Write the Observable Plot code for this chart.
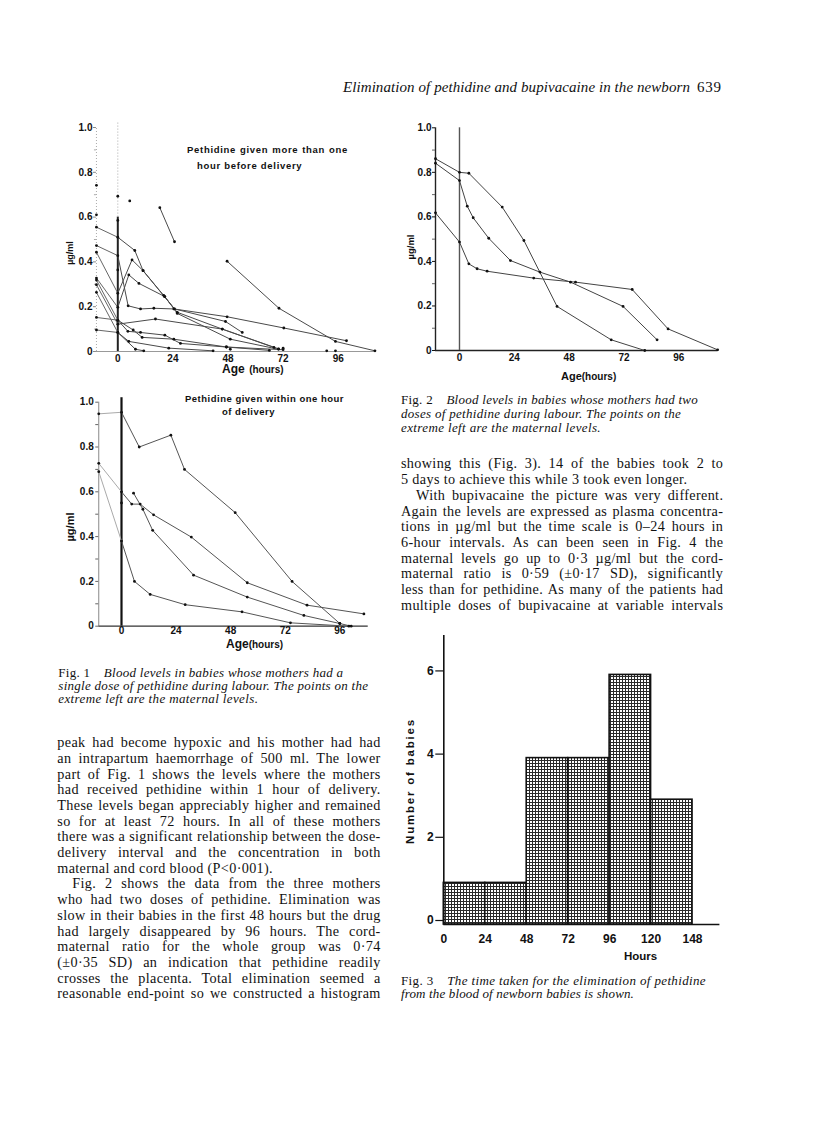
<!DOCTYPE html>
<html><head><meta charset="utf-8">
<script src="https://cdn.jsdelivr.net/npm/d3@7"></script>
<script src="https://cdn.jsdelivr.net/npm/@observablehq/plot@0.6"></script>
<style>
html,body{margin:0;padding:0;background:#fff}
#page{position:relative;width:816px;height:1125px;overflow:hidden;background:#fff;color:#111}
.a{position:absolute}
.serif{font-family:"Liberation Serif","Times New Roman",serif}
.sans{font-family:"Liberation Sans",Arial,sans-serif;font-weight:bold}
.ln{position:absolute;white-space:nowrap;text-align:justify;text-align-last:justify}
.ln.end{text-align-last:left}
.rot{transform:translate(-50%,-50%) rotate(-90deg);white-space:nowrap}
svg{display:block}
</style></head><body><div id="page"></div>
<script>
// ---------------- DATA ----------------
// Fig 1 (upper): pethidine given more than one hour before delivery. [age hours, µg/ml]; first point at negative age = maternal level
const fig1aSeries = [
  [[-9.3,0.555],[0,0.51],[7.4,0.451],[11,0.361],[20.3,0.245],[25.9,0.175],[45.5,0.10],[70,0.012]],
  [[-9.3,0.473],[0,0.428],[4.5,0.204],[9.9,0.19],[15.7,0.193],[24.4,0.19],[47.6,0.155],[72.3,0.105],[99.6,0.048]],
  [[-9.3,0.443],[0,0.26],[6.2,0.409],[11,0.361],[20,0.25],[24.7,0.19],[46.9,0.134],[54.2,0.085]],
  [[-9.3,0.328],[0,0.197],[4.8,0.342],[9.2,0.304],[20.5,0.245],[25.9,0.17],[49,0.055],[70,0.01]],
  [[-9.3,0.319],[0,0.14],[4.4,0.09],[9.9,0.085],[20.5,0.073],[27.3,0.036],[47.3,0.02],[72,0.008]],
  [[-9.3,0.298],[0,0.122],[16.4,0.145],[45.5,0.10],[68,0.018]],
  [[-9.3,0.264],[0,0.085],[4.8,0.045],[22.2,0.015],[41.5,0.003]],
  [[-9.3,0.152],[0,0.14],[6.7,0.096],[10.6,0.063],[24.4,0.055],[47.3,0.02],[66,0.005]],
  [[-9.3,0.096],[0,0.085],[7.7,0.01],[11.3,0.003]],
  [[47.6,0.403],[70.2,0.193],[94.8,0.045],[112,0.003]],
  [[18.3,0.642],[24.7,0.49]]
];
const fig1aLoose = [[-9.3,0.742],[0,0.693],[5.2,0.672],[-9.3,0.61],[0,0.585],[0,0.364],[49,0.01],[72,0.015],[91,0.003],[94.8,0.003]];

// Fig 1 (lower): pethidine given within one hour of delivery
const fig1bSeries = [
  [[-10,0.948],[0,0.955],[7.8,0.80],[21.7,0.853],[27.7,0.70],[50,0.507],[75,0.20],[96,0.012],[101,0]],
  [[-10,0.727],[0,0.60],[4.5,0.545],[8.2,0.545],[14.1,0.497],[30.7,0.398],[55.3,0.194],[81.6,0.094],[106.6,0.055]],
  [[5.3,0.594],[9.4,0.522],[13.7,0.428],[31.7,0.228],[55.3,0.13],[80.2,0.048],[96,0.012]],
  [[-10,0.69],[0,0.38],[5.7,0.20],[12.6,0.142],[28,0.096],[53,0.064],[74.3,0.015],[100,0]]
];
const fig1bLoose = [[0,0.55]];

// Fig 2: two doses of pethidine
const fig2Series = [
  [[-10.5,0.861],[0,0.80],[4.1,0.796],[18.7,0.644],[28.2,0.494],[42.7,0.198],[66.4,0.048],[81.1,0.0]],
  [[-10.5,0.841],[0,0.763],[3.4,0.648],[6.0,0.596],[12.8,0.504],[22.3,0.404],[35.2,0.352],[48.6,0.307],[71.6,0.198],[86.5,0.048]],
  [[-10.5,0.618],[0,0.487],[4.1,0.389],[7.7,0.367],[12.1,0.356],[32.5,0.325],[50.8,0.307],[75.6,0.274],[91.3,0.097],[113,0.003]]
];

// Shared axis ticks
const yTickValues = [0,0.2,0.4,0.6,0.8,1.0];
const yTickLabels = ["0","0.2","0.4","0.6","0.8","1.0"];
const yMinorTicks = [0.1,0.3,0.5,0.7,0.9];
const xTickHours = [0,24,48,72,96];

// Fig 3: histogram of time to elimination
const fig3BinLabels = ["0","24","48","72","96","120","148"];
const fig3Counts = [1,1,4,4,6,3];
const fig3YTicks = [0,2,4,6];

// Text
const headerTitle = "Elimination of pethidine and bupivacaine in the newborn";
const headerPage = "639";
const fig1aTitle = ["Pethidine given more than one","hour before delivery"];
const fig1bTitle = ["Pethidine given within one hour","of delivery"];
const cap1 = ["Blood levels in babies whose mothers had a","single dose of pethidine during labour. The points on the","extreme left are the maternal levels."];
const cap2 = ["Blood levels in babies whose mothers had two","doses of pethidine during labour. The points on the","extreme left are the maternal levels."];
const cap3 = ["The time taken for the elimination of pethidine","from the blood of newborn babies is shown."];
const leftBody = [
 "peak had become hypoxic and his mother had had",
 "an intrapartum haemorrhage of 500 ml. The lower",
 "part of Fig. 1 shows the levels where the mothers",
 "had received pethidine within 1 hour of delivery.",
 "These levels began appreciably higher and remained",
 "so for at least 72 hours. In all of these mothers",
 "there was a significant relationship between the dose-",
 "delivery interval and the concentration in both",
 "maternal and cord blood (P<0·001).",
 "Fig. 2 shows the data from the three mothers",
 "who had two doses of pethidine. Elimination was",
 "slow in their babies in the first 48 hours but the drug",
 "had largely disappeared by 96 hours. The cord-",
 "maternal ratio for the whole group was 0·74",
 "(±0·35 SD) an indication that pethidine readily",
 "crosses the placenta. Total elimination seemed a",
 "reasonable end-point so we constructed a histogram"
];
const rightBody = [
 "showing this (Fig. 3). 14 of the babies took 2 to",
 "5 days to achieve this while 3 took even longer.",
 "With bupivacaine the picture was very different.",
 "Again the levels are expressed as plasma concentra-",
 "tions in µg/ml but the time scale is 0–24 hours in",
 "6-hour intervals. As can been seen in Fig. 4 the",
 "maternal levels go up to 0·3 µg/ml but the cord-",
 "maternal ratio is 0·59 (±0·17 SD), significantly",
 "less than for pethidine. As many of the patients had",
 "multiple doses of bupivacaine at variable intervals"
];

// ---------------- RENDER ----------------
const page = document.getElementById("page");
function place(el, left, top){ const d=document.createElement("div"); d.className="a"; d.style.left=left+"px"; d.style.top=top+"px"; d.appendChild(el); page.appendChild(d); return d; }
function html(cls, left, top, content, extra){ const d=document.createElement("div"); d.className=cls; d.style.left=left+"px"; d.style.top=top+"px"; if(extra) Object.assign(d.style, extra); d.innerHTML=content; page.appendChild(d); return d; }
const esc = s => s.replace(/&/g,"&amp;").replace(/</g,"&lt;");
const mctx = document.createElement("canvas").getContext("2d");
function measure(text, font){ mctx.font = font; return mctx.measureText(text).width; }

const baseStyle = {background:"none", fontFamily:"Liberation Sans, Arial, sans-serif", fontSize:"10px", fontWeight:"bold", color:"#111", overflow:"visible"};
const yFmt = d => yTickLabels[yTickValues.indexOf(d)];

function lineMarks(series, loose, babyStroke, matStroke){
  const mat=[], baby=[], pts=[];
  series.forEach((s,i)=>{
    s.forEach(([h,v])=>pts.push({h,v}));
    let st=0;
    if (s[0][0] < 0){ mat.push({id:i,h:s[0][0],v:s[0][1]},{id:i,h:s[1][0],v:s[1][1]}); st=1; }
    s.slice(st).forEach(([h,v])=>baby.push({id:i,h,v}));
  });
  loose.forEach(([h,v])=>pts.push({h,v}));
  return [
    Plot.line(mat,{x:"h",y:"v",z:"id",stroke:matStroke,strokeWidth:1}),
    Plot.line(baby,{x:"h",y:"v",z:"id",stroke:babyStroke,strokeWidth:1}),
    Plot.dot(pts,{x:"h",y:"v",r:1.4,fill:"#111",stroke:"none"})
  ];
}

// Fig 1 upper
const x1a=[-9.3,113];
place(Plot.plot({
  width:360,height:270,marginLeft:55.95,marginRight:23.25,marginTop:12,marginBottom:34,
  x:{domain:x1a,label:null}, y:{domain:[0,1],label:null}, style:baseStyle,
  marks:[
    Plot.ruleX([x1a[0]],{y1:0,y2:1,stroke:"#aaa",strokeDasharray:"1,2"}),
    Plot.ruleY([0],{x1:x1a[0],x2:112,stroke:"#999",strokeWidth:1.2}),
    Plot.ruleX([0],{y1:0,y2:0.6,stroke:"#222",strokeWidth:2}),
    Plot.ruleX([0],{y1:0.6,y2:1.02,stroke:"#aaa",strokeDasharray:"1,2"}),
    Plot.axisY({ticks:yTickValues,tickFormat:yFmt,tickSize:3,tickPadding:1,stroke:"#888"}),
    Plot.axisY({ticks:yMinorTicks,tickFormat:()=>"",tickSize:2,stroke:"#aaa"}),
    Plot.axisX({ticks:xTickHours,tickSize:0,tickPadding:3}),
    ...lineMarks(fig1aSeries, fig1aLoose, "#4a4a4a", "#666")
  ]
}),40,115);

// Fig 1 lower
const x1b=[-10,113];
place(Plot.plot({
  width:360,height:270,marginLeft:58.26,marginRight:22.04,marginTop:16.7,marginBottom:29.3,
  x:{domain:x1b,label:null}, y:{domain:[0,1],label:null}, style:baseStyle,
  marks:[
    Plot.ruleX([x1b[0]],{y1:0,y2:1,stroke:"#888"}),
    Plot.ruleY([0],{x1:x1b[0],x2:108.5,stroke:"#333",strokeWidth:1.2}),
    Plot.ruleX([0],{y1:0,y2:1.02,stroke:"#111",strokeWidth:2.2}),
    Plot.axisY({ticks:yTickValues,tickFormat:yFmt,tickSize:3,tickPadding:2,stroke:"#666"}),
    Plot.axisY({ticks:yMinorTicks,tickFormat:()=>"",tickSize:3,stroke:"#666"}),
    Plot.axisX({ticks:xTickHours,tickSize:0,tickPadding:1}),
    ...lineMarks(fig1bSeries, fig1bLoose, "#555", "#aaa")
  ]
}),40,385);

// Fig 2
const x2=[-10.5,115];
place(Plot.plot({
  width:360,height:270,marginLeft:35,marginRight:38.3,marginTop:12.3,marginBottom:35,
  x:{domain:x2,label:null}, y:{domain:[0,1],label:null}, style:baseStyle,
  marks:[
    Plot.ruleX([x2[0]],{y1:0,y2:1,stroke:"#222",strokeWidth:1.4}),
    Plot.ruleY([0],{x1:x2[0],x2:113,stroke:"#222",strokeWidth:1.4}),
    Plot.ruleX([0],{y1:0,y2:1,stroke:"#555",strokeWidth:1.4}),
    Plot.axisY({ticks:yTickValues,tickFormat:yFmt,tickSize:3,tickPadding:1}),
    Plot.axisY({ticks:yMinorTicks,tickFormat:()=>"",tickSize:3,stroke:"#666"}),
    Plot.axisX({ticks:xTickHours,tickSize:0,tickPadding:3}),
    ...lineMarks(fig2Series, [], "#444", "#444")
  ]
}),400,115);

// Fig 3 histogram
const binRows = fig3Counts.map((c,i)=>({i0:i,i1:i+1,c}));
const fig3 = Plot.plot({
  width:360,height:340,marginLeft:43.3,marginRight:40.6,marginTop:9.9,marginBottom:41,
  x:{domain:[0,6.66],label:null}, y:{domain:[0,6.95],label:null},
  style:Object.assign({},baseStyle,{fontSize:"12px"}),
  marks:[
    Plot.rectY(binRows,{x1:"i0",x2:"i1",y:"c",fill:"url(#dots)",stroke:"#111",strokeWidth:1.6}),
    Plot.ruleX([0],{y1:0,y2:6.95,stroke:"#111",strokeWidth:1.6}),
    Plot.ruleY([0],{x1:0,x2:6.66,stroke:"#111",strokeWidth:1.6}),
    Plot.axisY({ticks:fig3YTicks,tickFormat:d=>String(d),tickSize:8,tickPadding:2,dy:-4,strokeWidth:1.2}),
    Plot.axisX({ticks:d3.range(fig3BinLabels.length),tickFormat:i=>fig3BinLabels[i],tickSize:0,tickPadding:10})
  ]
});
{
  const defs = d3.select(fig3).insert("defs",":first-child");
  const p = defs.append("pattern").attr("id","dots").attr("width",3).attr("height",3).attr("patternUnits","userSpaceOnUse");
  p.append("rect").attr("width",3).attr("height",3).attr("fill","#2a2a2a");
  p.append("rect").attr("x",1).attr("y",1).attr("width",2).attr("height",2).attr("fill","#fff");
}
place(fig3,400,625);

// ---- chart texts ----
function titleLines(lines, lefts, widths, centers, size, ls){
  lines.forEach((t,i)=>html("ln sans", lefts[i], centers[i]-size*0.6, esc(t), {width:widths[i]+"px", fontSize:size+"px", lineHeight:(size*1.2)+"px", letterSpacing:ls+"px"}));
}
titleLines(fig1aTitle,[187,197],[161,105],[150,166],9.5,0.7);
titleLines(fig1bTitle,[185,222],[158,48],[399,412],9.5,0.5);

html("a sans",222,361,'<span style="font-size:12px">Age</span> <span style="font-size:10px">(hours)</span>',{lineHeight:"14px",whiteSpace:"nowrap"});
html("a sans",226,636,'<span style="font-size:12px">Age</span><span style="font-size:10px">(hours)</span>',{lineHeight:"14px",whiteSpace:"nowrap"});
html("a sans",561,368,'<span style="font-size:11px">Age</span><span style="font-size:10px">(hours)</span>',{lineHeight:"14px",whiteSpace:"nowrap"});

html("a sans rot",70,253,"µg/ml",{fontSize:"9px"});
html("a sans rot",70,527,"µg/ml",{fontSize:"11px"});
html("a sans rot",410,247,"µg/ml",{fontSize:"9.5px"});
html("a sans rot",410,781,"Number of babies",{fontSize:"11.5px",letterSpacing:"1.8px"});
html("a sans",624,949,"Hours",{fontSize:"11.5px",lineHeight:"14px"});

// ---- header ----
{
  const f = 'italic 15px "Liberation Serif"';
  const ls = (347 - measure(headerTitle,f))/headerTitle.length;
  html("ln serif",343,78,esc(headerTitle),{width:"347px",fontSize:"15px",fontStyle:"italic",lineHeight:"18px",letterSpacing:Math.max(-0.5,Math.min(0.6,ls))+"px"});
  html("a serif",697,78,headerPage,{fontSize:"15px",lineHeight:"18px",letterSpacing:"0.8px"});
}

// ---- captions ----
function caption(label, lines, left, centers, widths, size){
  const f = 'italic '+size+'px "Liberation Serif"';
  lines.forEach((t,i)=>{
    const pre = i===0 ? label+"\u2002\u2002" : "";
    const w = measure(pre+t, f);
    const ls = Math.max(-0.4, Math.min(0.5, (widths[i]-w)/(pre+t).length));
    const content = (i===0? '<span style="font-style:normal">'+label+'</span>&ensp;&ensp;' : '') + esc(t);
    html("ln serif", left, centers[i]-8, content, {width:widths[i]+"px", fontSize:size+"px", fontStyle:"italic", lineHeight:"16px", letterSpacing:ls+"px"});
  });
}
caption("Fig. 1", cap1, 58.3, [672.7,686,699.3], [285,310,200], 13);
caption("Fig. 2", cap2, 401, [400,414,428.3], [297,280,200], 13);
caption("Fig. 3", cap3, 401, [980.7,994.3], [305,233], 13);

// ---- body text ----
function body(lines, left, firstCenter, lh, width, ends, indents, size, baseLS){
  const f = size+'px "Liberation Serif"';
  lines.forEach((t,i)=>{
    const ind = indents.includes(i) ? 15 : 0;
    const w = measure(t, f);
    const fit = (width-ind-1 - w)/t.length;
    const ls = Math.min(baseLS, fit);
    html("ln serif"+(ends.includes(i)?" end":""), left+ind, firstCenter+i*lh-lh/2, esc(t), {width:(width-ind)+"px", fontSize:size+"px", lineHeight:lh+"px", letterSpacing:ls+"px"});
  });
}
body(leftBody, 57.3, 743.3, 15.67, 323.4, [8], [9], 14.2, 0.35);
body(rightBody, 401, 464.3, 15.71, 322.3, [1], [2], 14.2, 0.35);
</script></body></html>
